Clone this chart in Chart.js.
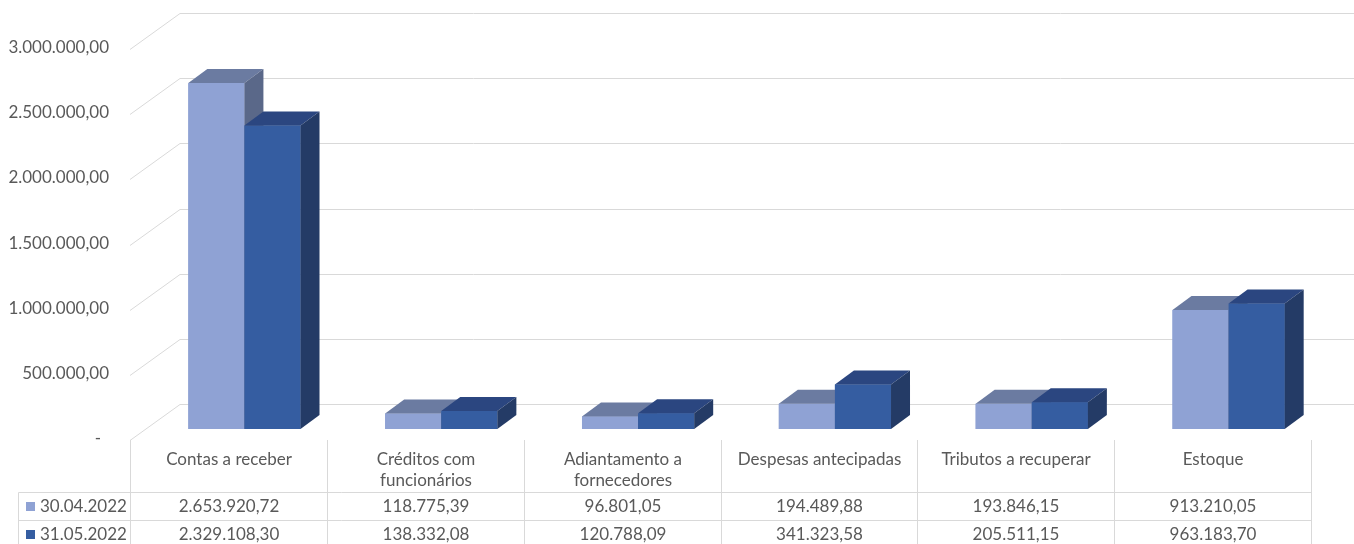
<!DOCTYPE html>
<html>
<head>
<meta charset="utf-8">
<script src="https://cdn.jsdelivr.net/npm/chart.js@4"></script>
<style>
  body { margin: 0; background: #fff; }
  #wrap { width: 1354px; height: 544px; }
</style>
</head>
<body>
<div id="wrap"><canvas id="assetsChart" width="1354" height="544"></canvas></div>
<script>
// data
const categories = ['Contas a receber', ['Créditos com', 'funcionários'], ['Adiantamento a', 'fornecedores'], 'Despesas antecipadas', 'Tributos a recuperar', 'Estoque'];
const seriesNames = ['30.04.2022', '31.05.2022'];
const apr2022 = [2653920.72, 118775.39, 96801.05, 194489.88, 193846.15, 913210.05];
const may2022 = [2329108.30, 138332.08, 120788.09, 341323.58, 205511.15, 963183.70];
const yTicks = [0, 500000, 1000000, 1500000, 2000000, 2500000, 3000000];

const colors = [
  { front: '#8FA2D4', top: '#6B7BA1', side: '#5A6889' },
  { front: '#355DA1', top: '#2B4680', side: '#243B66' }
];
const FONT = '17px Lato, "Open Sans", sans-serif';
const TEXT = '#595959';
const GRID = '#D9D9D9';
const DX = 19, DY = -14;      // bar depth
const tableShift = 16;        // table columns sit left of the bar front plane

// pt-BR number format
function fmt(v) {
  if (v === 0) return '-';
  const parts = v.toFixed(2).split('.');
  return parts[0].replace(/\B(?=(\d{3})+(?!\d))/g, '.') + ',' + parts[1];
}

// 3d gridlines + y labels behind the bars
const gridPlugin = {
  id: 'grid3d',
  beforeDatasetsDraw(chart) {
    const ctx = chart.ctx;
    const y = chart.scales.y;
    ctx.save();
    ctx.strokeStyle = GRID;
    ctx.lineWidth = 1;
    ctx.font = FONT;
    ctx.fillStyle = TEXT;
    ctx.textBaseline = 'middle';
    yTicks.forEach(t => {
      const py = Math.round(y.getPixelForValue(t));
      ctx.beginPath();
      ctx.moveTo(130, py + 11.5);
      ctx.lineTo(180, py - 24.5);
      ctx.lineTo(chart.width, py - 24.5);
      ctx.stroke();
      ctx.textAlign = 'right';
      ctx.fillText(fmt(t), t === 0 ? 101 : 109, py + 10);
    });
    ctx.restore();
  }
};

// redraw bars per category so faces overlap correctly
const barsPlugin = {
  id: 'bars3d',
  afterDatasetsDraw(chart) {
    const ctx = chart.ctx;
    const metas = [chart.getDatasetMeta(0), chart.getDatasetMeta(1)];
    ctx.save();
    for (let i = 0; i < categories.length; i++) {
      metas.forEach((meta, d) => {
        const bar = meta.data[i];
        const x0 = bar.x - bar.width / 2, x1 = bar.x + bar.width / 2;
        const top = bar.y, base = bar.base;
        const c = colors[d];
        ctx.fillStyle = c.front;
        ctx.fillRect(x0, top, x1 - x0, base - top);
        ctx.fillStyle = c.top;
        ctx.beginPath();
        ctx.moveTo(x0, top);
        ctx.lineTo(x0 + DX, top + DY);
        ctx.lineTo(x1 + DX, top + DY);
        ctx.lineTo(x1, top);
        ctx.closePath();
        ctx.fill();
        ctx.fillStyle = c.side;
        ctx.beginPath();
        ctx.moveTo(x1, top);
        ctx.lineTo(x1 + DX, top + DY);
        ctx.lineTo(x1 + DX, base + DY);
        ctx.lineTo(x1, base);
        ctx.closePath();
        ctx.fill();
      });
    }
    ctx.restore();
  }
};

// data table under the chart
const tablePlugin = {
  id: 'dataTable',
  afterDraw(chart) {
    const ctx = chart.ctx;
    const x = chart.scales.x;
    const colW = x.getPixelForValue(1) - x.getPixelForValue(0);
    const edges = categories.map((c, i) => Math.round(x.getPixelForValue(i) - colW / 2 - tableShift) + 0.5);
    const right = Math.round(x.getPixelForValue(categories.length - 1) + colW / 2 - tableShift) + 0.5;
    edges.push(right);
    const legendLeft = 18.5;
    const headTop = 440, row1 = 492.5, row2 = 520.5, bottom = chart.height;

    ctx.save();
    ctx.strokeStyle = GRID;
    ctx.lineWidth = 1;
    ctx.beginPath();
    edges.forEach(ex => { ctx.moveTo(ex, headTop); ctx.lineTo(ex, bottom); });
    ctx.moveTo(legendLeft, row1); ctx.lineTo(legendLeft, bottom);
    ctx.moveTo(legendLeft, row1); ctx.lineTo(right, row1);
    ctx.moveTo(legendLeft, row2); ctx.lineTo(right, row2);
    ctx.stroke();

    ctx.font = FONT;
    ctx.fillStyle = TEXT;
    ctx.textBaseline = 'middle';
    ctx.textAlign = 'center';
    categories.forEach((c, i) => {
      const cx = (edges[i] + edges[i + 1]) / 2;
      const lines = Array.isArray(c) ? c : [c];
      lines.forEach((ln, k) => ctx.fillText(ln, cx, 460 + k * 21));
      ctx.fillText(fmt(apr2022[i]), cx, 507);
      ctx.fillText(fmt(may2022[i]), cx, 535);
    });

    [507, 535].forEach((ty, r) => {
      ctx.fillStyle = colors[r].front;
      ctx.fillRect(26, ty - 5, 9, 9);
      ctx.fillStyle = TEXT;
      ctx.textAlign = 'left';
      ctx.fillText(seriesNames[r], 40, ty);
    });
    ctx.restore();
  }
};

const ctx = document.getElementById('assetsChart').getContext('2d');
const assetsChart = new Chart(ctx, {
  type: 'bar',
  data: {
    labels: categories,
    datasets: [
      { label: seriesNames[0], data: apr2022, backgroundColor: colors[0].front },
      { label: seriesNames[1], data: may2022, backgroundColor: colors[1].front }
    ]
  },
  options: {
    responsive: false,
    animation: false,
    layout: { padding: { left: 146, right: 27, top: 38, bottom: 115 } },
    categoryPercentage: 0.57,
    barPercentage: 1,
    plugins: { legend: { display: false }, tooltip: { enabled: false } },
    scales: {
      x: { display: false },
      y: { display: false, min: 0, max: 3000000 }
    }
  },
  plugins: [gridPlugin, barsPlugin, tablePlugin]
});
</script>
</body>
</html>
